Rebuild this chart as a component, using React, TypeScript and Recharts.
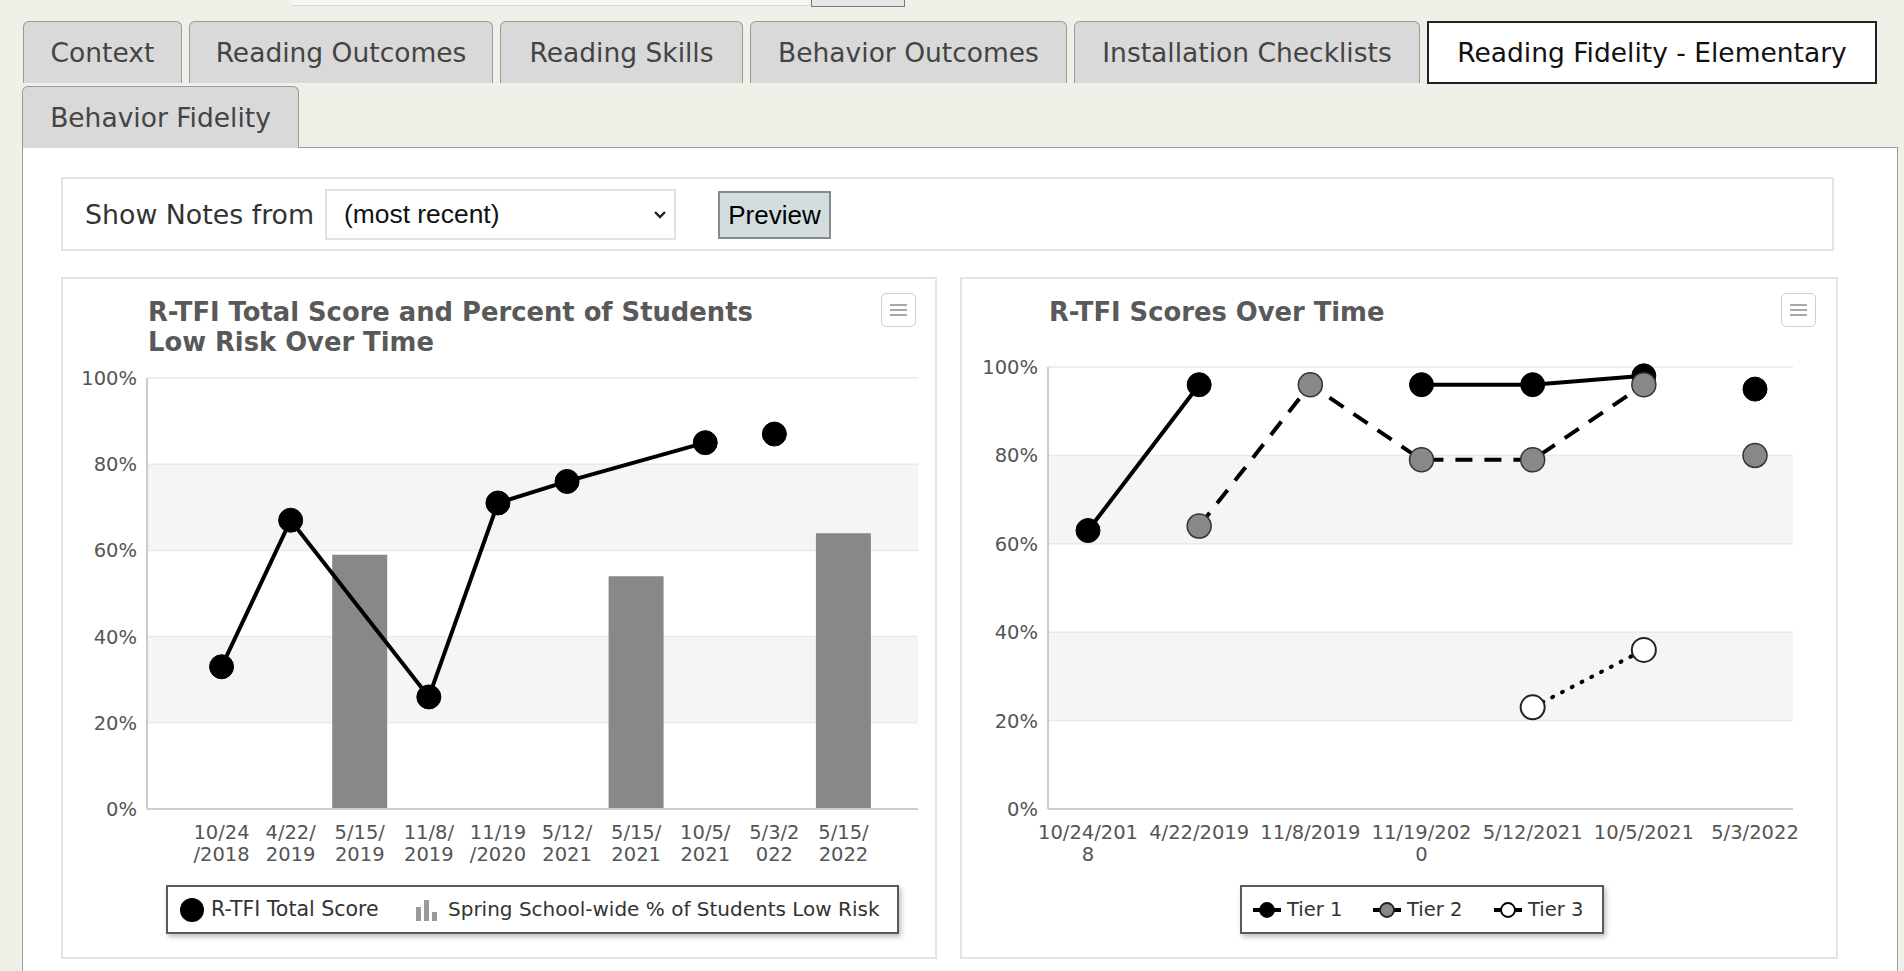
import React from 'react';
import { ComposedChart, LineChart, Line, Bar, XAxis, YAxis, CartesianGrid } from 'recharts';

// ---------- data ----------
const tabsRow1 = ['Context', 'Reading Outcomes', 'Reading Skills', 'Behavior Outcomes', 'Installation Checklists', 'Reading Fidelity - Elementary'];
const tabsRow2 = ['Behavior Fidelity'];
const activeTab = 'Reading Fidelity - Elementary';

const yTicks = [0, 20, 40, 60, 80, 100];
// alternating plot bands (top to bottom: 100-80 plain, 80-60 shaded, ...)
const bandFills = ['#ffffff', '#f5f5f5'];

const scoreTitle = ['R-TFI Total Score and Percent of Students', 'Low Risk Over Time'];
const scoreCategories = ['10/24/2018', '4/22/2019', '5/15/2019', '11/8/2019', '11/19/2020', '5/12/2021', '5/15/2021', '10/5/2021', '5/3/2022', '5/15/2022'];
const totalScore = [33, 67, null, 26, 71, 76, null, 85, 87, null];
const lowRiskPercent = [null, null, 59, null, null, null, 54, null, null, 64];

const tierTitle = 'R-TFI Scores Over Time';
const tierCategories = ['10/24/2018', '4/22/2019', '11/8/2019', '11/19/2020', '5/12/2021', '10/5/2021', '5/3/2022'];
const tier1 = [63, 96, null, 96, 96, 98, 95];
const tier2 = [null, 64, 96, 79, 79, 96, 80];
const tier3 = [null, null, null, null, 23, 36, null];

// line segments are not joined across this date
const segmentBreak = '5/3/2022';

// ---------- layout ----------
const FONT = '"DejaVu Sans", Verdana, sans-serif';
const TAB_WIDTHS_1 = [159, 304, 243, 317, 346, 450];
const TAB_WIDTHS_2 = [277];

function split(cats: string[], vals: (number | null)[]) {
  const b = cats.indexOf(segmentBreak);
  return {
    a: vals.map((v, i) => (i < b ? v : null)),
    b: vals.map((v, i) => (i >= b ? v : null)),
  };
}

const s = split(scoreCategories, totalScore);
const scoreData = scoreCategories.map((c, i) => ({
  cat: c,
  scoreA: s.a[i],
  scoreB: s.b[i],
  lowRisk: lowRiskPercent[i],
}));

const t1 = split(tierCategories, tier1);
const t2 = split(tierCategories, tier2);
const t3 = split(tierCategories, tier3);
const tierData = tierCategories.map((c, i) => ({
  cat: c,
  t1a: t1.a[i], t1b: t1.b[i],
  t2a: t2.a[i], t2b: t2.b[i],
  t3a: t3.a[i], t3b: t3.b[i],
}));

const WrapTick = (props: any) => {
  const { x, y, payload, chunk } = props;
  const str = String(payload.value);
  const lines: string[] = [];
  for (let i = 0; i < str.length; i += chunk) lines.push(str.slice(i, i + chunk));
  return (
    <text x={x} y={y} textAnchor="middle" fill="#555" fontSize={19.5} fontFamily={FONT}>
      {lines.map((l, i) => (
        <tspan key={i} x={x} y={y + 30 + i * 22}>{l}</tspan>
      ))}
    </text>
  );
};

const YTick = (props: any) => {
  const { x, y, payload } = props;
  return (
    <text x={x} y={y + 7} textAnchor="end" fill="#555" fontSize={19.5} fontFamily={FONT}>
      {payload.value + '%'}
    </text>
  );
};

const Menu = ({ left, top }: { left: number; top: number }) => (
  <div style={{ position: 'absolute', left, top, width: 33, height: 32, border: '1.5px solid #cfcfcf', borderRadius: 5, background: '#fff' }}>
    {[10, 15, 20].map((t) => (
      <div key={t} style={{ position: 'absolute', left: 8, top: t, width: 17, height: 2, background: '#a8a8a8' }} />
    ))}
  </div>
);

const Tab = ({ label, left, top, width, active }: any) => (
  <div
    style={{
      position: 'absolute', left, top, width, height: active ? 63 : 62, boxSizing: 'border-box',
      background: active ? '#fff' : '#d9d9d9',
      border: active ? '2px solid #222' : '1.5px solid #9a9a9a',
      borderBottom: active ? '2px solid #222' : 'none',
      borderRadius: active ? 0 : '6px 6px 0 0',
      display: 'flex', alignItems: 'center', justifyContent: 'center',
      fontFamily: FONT, fontSize: 26.5, color: active ? '#111' : '#444', whiteSpace: 'nowrap',
    }}
  >
    {label}
  </div>
);

function tabsLayout(labels: string[], widths: number[], start: number, gap: number) {
  let x = start;
  return labels.map((l, i) => {
    const r = { label: l, left: x, width: widths[i] };
    x += widths[i] + gap;
    return r;
  });
}

const boxStyle: React.CSSProperties = { position: 'absolute', background: '#fff', border: '2px solid #e4e4e4', boxSizing: 'border-box' };
const titleStyle: React.CSSProperties = { position: 'absolute', fontFamily: FONT, fontWeight: 'bold', fontSize: 25.8, color: '#595959', lineHeight: '30px', whiteSpace: 'nowrap' };
const legendText: React.CSSProperties = { fontFamily: FONT, fontSize: 19.5, color: '#333', whiteSpace: 'nowrap' };

export default function App() {
  return (
    <div style={{ position: 'fixed', left: 0, top: 0, width: 1904, height: 971, background: '#f0f0e8', overflow: 'hidden' }}>
      {/* remnants at very top */}
      <div style={{ position: 'absolute', left: 291, top: -30, width: 518, height: 35, background: '#f6f6f2', borderBottom: '1.5px solid #d8d8d8' }} />
      <div style={{ position: 'absolute', left: 811, top: -30, width: 92, height: 35, background: '#e6e6e6', border: '1.5px solid #777' }} />

      {/* panel */}
      <div style={{ position: 'absolute', left: 22, top: 147, width: 1876, height: 900, background: '#fff', border: '1.5px solid #9a9a9a', boxSizing: 'border-box' }} />

      {tabsLayout(tabsRow1, TAB_WIDTHS_1, 23, 7).map((t) => (
        <Tab key={t.label} label={t.label} left={t.left} top={21} width={t.width} active={t.label === activeTab} />
      ))}
      {tabsLayout(tabsRow2, TAB_WIDTHS_2, 22, 7).map((t) => (
        <Tab key={t.label} label={t.label} left={t.left} top={86} width={t.width} active={t.label === activeTab} />
      ))}

      {/* notes bar */}
      <div style={{ ...boxStyle, left: 61, top: 177, width: 1773, height: 74 }} />
      <div style={{ position: 'absolute', left: 85, top: 198, height: 34, lineHeight: '34px', fontFamily: FONT, fontSize: 26.8, color: '#333', whiteSpace: 'nowrap' }}>Show Notes from</div>
      <div style={{ position: 'absolute', left: 325, top: 189, width: 351, height: 51, boxSizing: 'border-box', border: '2px solid #e2e2e2', background: '#fff' }}>
        <div style={{ position: 'absolute', left: 17, top: 0, lineHeight: '47px', fontFamily: '"Liberation Sans", Arial, sans-serif', fontSize: 26.4, color: '#111', whiteSpace: 'nowrap' }}>(most recent)</div>
        <svg style={{ position: 'absolute', left: 326, top: 19 }} width={14} height={10}>
          <polyline points="2,2 7,7 12,2" fill="none" stroke="#222" strokeWidth={2.4} />
        </svg>
      </div>
      <div style={{ position: 'absolute', left: 718, top: 191, width: 113, height: 48, boxSizing: 'border-box', border: '2px solid #8a8a8a', background: '#d3dddd', display: 'flex', alignItems: 'center', justifyContent: 'center', fontFamily: '"Liberation Sans", Arial, sans-serif', fontSize: 26, color: '#000' }}>Preview</div>

      {/* left chart */}
      <div style={{ ...boxStyle, left: 61, top: 277, width: 876, height: 682 }} />
      <div style={{ ...titleStyle, left: 148, top: 297 }}>
        {scoreTitle.map((l) => (<div key={l}>{l}</div>))}
      </div>
      <Menu left={881} top={293} />
      <div style={{ position: 'absolute', left: 61, top: 277 }}>
        <ComposedChart width={876} height={682} data={scoreData} margin={{ top: 101, right: 19, bottom: 50, left: 0 }}>
          <CartesianGrid vertical={false} stroke="#e9e9e9" strokeWidth={1.5} horizontalFill={bandFills} fillOpacity={1} />
          <XAxis dataKey="cat" type="category" padding={{ left: 40, right: 40 }} height={100} interval={0}
            tickSize={0} tickMargin={0} tickLine={false} axisLine={{ stroke: '#cccccc', strokeWidth: 2 }}
            tick={<WrapTick chunk={5} />} />
          <YAxis type="number" domain={[0, 100]} ticks={yTicks} width={86} tickSize={0} tickMargin={10}
            tickLine={false} axisLine={{ stroke: '#cccccc', strokeWidth: 2 }} tick={<YTick />} interval={0} />
          <Bar dataKey="lowRisk" fill="#888888" barSize={55} isAnimationActive={false} />
          <Line dataKey="scoreA" stroke="#000" strokeWidth={4} connectNulls isAnimationActive={false}
            dot={{ r: 12, fill: '#000', stroke: '#000', strokeWidth: 1 }} activeDot={false} />
          <Line dataKey="scoreB" stroke="#000" strokeWidth={4} connectNulls isAnimationActive={false}
            dot={{ r: 12, fill: '#000', stroke: '#000', strokeWidth: 1 }} activeDot={false} />
        </ComposedChart>
      </div>
      <div style={{ position: 'absolute', left: 166, top: 885, width: 733, height: 49, boxSizing: 'border-box', border: '2px solid #5a5a5a', background: '#fff', boxShadow: '2px 3px 5px rgba(0,0,0,0.25)' }}>
        <svg style={{ position: 'absolute', left: 10, top: 10 }} width={28} height={26}>
          <circle cx={14} cy={13} r={12} fill="#000" />
        </svg>
        <div style={{ ...legendText, fontSize: 20.5, position: 'absolute', left: 43, top: 0, lineHeight: '45px' }}>R-TFI Total Score</div>
        <svg style={{ position: 'absolute', left: 247, top: 12 }} width={24} height={22}>
          <rect x={1} y={8} width={5} height={14} fill="#9a9a9a" />
          <rect x={9} y={1} width={5} height={21} fill="#9a9a9a" />
          <rect x={17} y={13} width={5} height={9} fill="#9a9a9a" />
        </svg>
        <div style={{ ...legendText, fontSize: 20, position: 'absolute', left: 280, top: 0, lineHeight: '45px' }}>Spring School-wide % of Students Low Risk</div>
      </div>

      {/* right chart */}
      <div style={{ ...boxStyle, left: 960, top: 277, width: 878, height: 682 }} />
      <div style={{ ...titleStyle, left: 1049, top: 297 }}>{tierTitle}</div>
      <Menu left={1781} top={293} />
      <div style={{ position: 'absolute', left: 960, top: 277 }}>
        <LineChart width={878} height={682} data={tierData} margin={{ top: 90, right: 45, bottom: 50, left: 0 }}>
          <CartesianGrid vertical={false} stroke="#e9e9e9" strokeWidth={1.5} horizontalFill={bandFills} fillOpacity={1} />
          <XAxis dataKey="cat" type="category" scale="point" padding={{ left: 40, right: 38 }} height={100} interval={0}
            tickSize={0} tickMargin={0} tickLine={false} axisLine={{ stroke: '#cccccc', strokeWidth: 2 }}
            tick={<WrapTick chunk={9} />} />
          <YAxis type="number" domain={[0, 100]} ticks={yTicks} width={88} tickSize={0} tickMargin={10}
            tickLine={false} axisLine={{ stroke: '#cccccc', strokeWidth: 2 }} tick={<YTick />} interval={0} />
          <Line dataKey="t1a" stroke="#000" strokeWidth={4} isAnimationActive={false}
            dot={{ r: 12, fill: '#000', stroke: '#000', strokeWidth: 1 }} activeDot={false} />
          <Line dataKey="t1b" stroke="#000" strokeWidth={4} isAnimationActive={false}
            dot={{ r: 12, fill: '#000', stroke: '#000', strokeWidth: 1 }} activeDot={false} />
          <Line dataKey="t2a" stroke="#000" strokeWidth={4} strokeDasharray="17 12" isAnimationActive={false}
            dot={{ r: 12, fill: '#888888', stroke: '#333', strokeWidth: 1.5, strokeDasharray: '' }} activeDot={false} />
          <Line dataKey="t2b" stroke="#000" strokeWidth={4} strokeDasharray="17 12" isAnimationActive={false}
            dot={{ r: 12, fill: '#888888', stroke: '#333', strokeWidth: 1.5, strokeDasharray: '' }} activeDot={false} />
          <Line dataKey="t3a" stroke="#000" strokeWidth={4} strokeDasharray="1 10" strokeLinecap="round" isAnimationActive={false}
            dot={{ r: 12, fill: '#fff', stroke: '#222', strokeWidth: 2, strokeDasharray: '' }} activeDot={false} />
          <Line dataKey="t3b" stroke="#000" strokeWidth={4} strokeDasharray="1 10" strokeLinecap="round" isAnimationActive={false}
            dot={{ r: 12, fill: '#fff', stroke: '#222', strokeWidth: 2, strokeDasharray: '' }} activeDot={false} />
        </LineChart>
      </div>
      <div style={{ position: 'absolute', left: 1240, top: 885, width: 364, height: 49, boxSizing: 'border-box', border: '2px solid #5a5a5a', background: '#fff', boxShadow: '2px 3px 5px rgba(0,0,0,0.25)' }}>
        {[
          { label: 'Tier 1', fill: '#000', stroke: '#000', x: 10 },
          { label: 'Tier 2', fill: '#888888', stroke: '#222', x: 130 },
          { label: 'Tier 3', fill: '#fff', stroke: '#000', x: 251 },
        ].map((it) => (
          <React.Fragment key={it.label}>
            <svg style={{ position: 'absolute', left: it.x, top: 13 }} width={30} height={20}>
              <line x1={1} y1={10} x2={29} y2={10} stroke="#000" strokeWidth={4} />
              <circle cx={15} cy={10} r={7} fill={it.fill} stroke={it.stroke} strokeWidth={1.8} />
            </svg>
            <div style={{ ...legendText, position: 'absolute', left: it.x + 35, top: 0, lineHeight: '45px' }}>{it.label}</div>
          </React.Fragment>
        ))}
      </div>
    </div>
  );
}
